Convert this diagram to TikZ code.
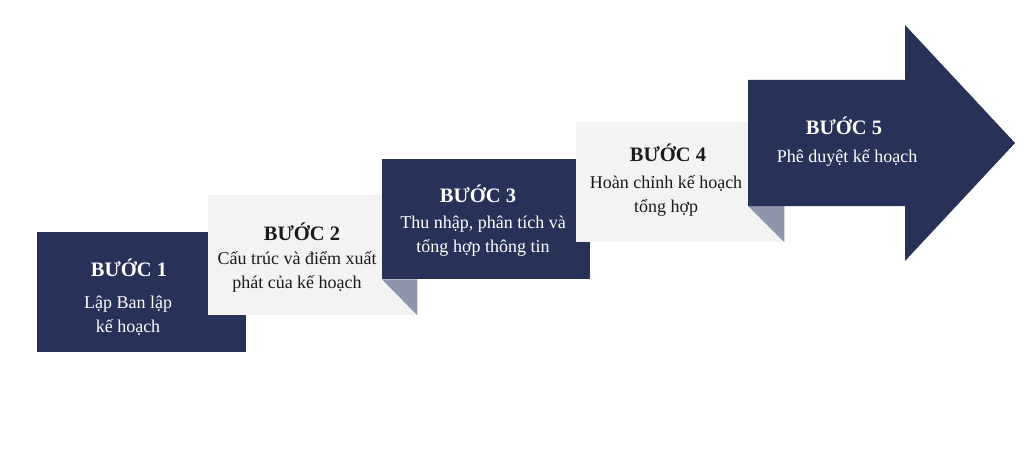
\documentclass[tikz,border=0pt]{standalone}
\usepackage{fontspec}
\setmainfont{Liberation Serif}
\definecolor{navy}{HTML}{263258}
\definecolor{paper}{HTML}{F3F3F3}
\definecolor{foldgray}{HTML}{8E94AA}
\definecolor{ink}{HTML}{1A1A1A}

\begin{document}
\begin{tikzpicture}[x=1pt,y=-1pt,
  darkbox/.style={fill=navy,minimum width=209pt,minimum height=120pt,inner sep=0pt,anchor=north west},
  lightbox/.style={darkbox,fill=paper},
  fold/.style={fill=foldgray},
  heading/.style={font=\fontsize{20.5}{24}\selectfont\bfseries,anchor=base},
  body/.style={font=\fontsize{18}{24}\selectfont,align=center,anchor=base}]
\useasboundingbox (0,0) rectangle (1024,449);
% boxes, back to front
\node[darkbox] (step1) at (37,232) {};
\node[lightbox] (step2) at (208,195) {};
\node[darkbox,minimum width=208pt] (step3) at (382,159) {};
\fill[fold] (step3.south west) -- (step3.south west -| step2.east) -- (step2.south east) -- cycle;
\node[lightbox,minimum width=208pt] (step4) at (576,122) {};
\coordinate (tail) at (748,206);
\fill[fold] (tail) -- (tail -| step4.east) -- (step4.south east) -- cycle;
% big arrow
\fill[navy] (tail) -- (748,80) -- (905,80) -- (905,25) -- (1015,143) -- (905,261) -- (905,206) -- cycle;
% texts (body nodes sit on the baseline of their last line)
\node[heading,white] (h1) at (129,276) {BƯỚC 1};
\node[body,white] (t1) at (128,332) {Lập Ban lập\\kế hoạch};
\node[heading,ink] (h2) at (302,240) {BƯỚC 2};
\node[body,ink] (t2) at (297,288) {Cấu trúc và điểm xuất\\phát của kế hoạch};
\node[heading,white] (h3) at (478,202) {BƯỚC 3};
\node[body,white] (t3) at (483,252) {Thu nhập, phân tích và\\tổng hợp thông tin};
\node[heading,ink] (h4) at (668,161) {BƯỚC 4};
\node[body,ink] (t4) at (666,212) {Hoàn chỉnh kế hoạch\\tổng hợp};
\node[heading,white] (h5) at (844,135) {BƯỚC 5};
\node[body,white] (t5) at (847,163) {Phê duyệt kế hoạch};
\end{tikzpicture}
\end{document}
